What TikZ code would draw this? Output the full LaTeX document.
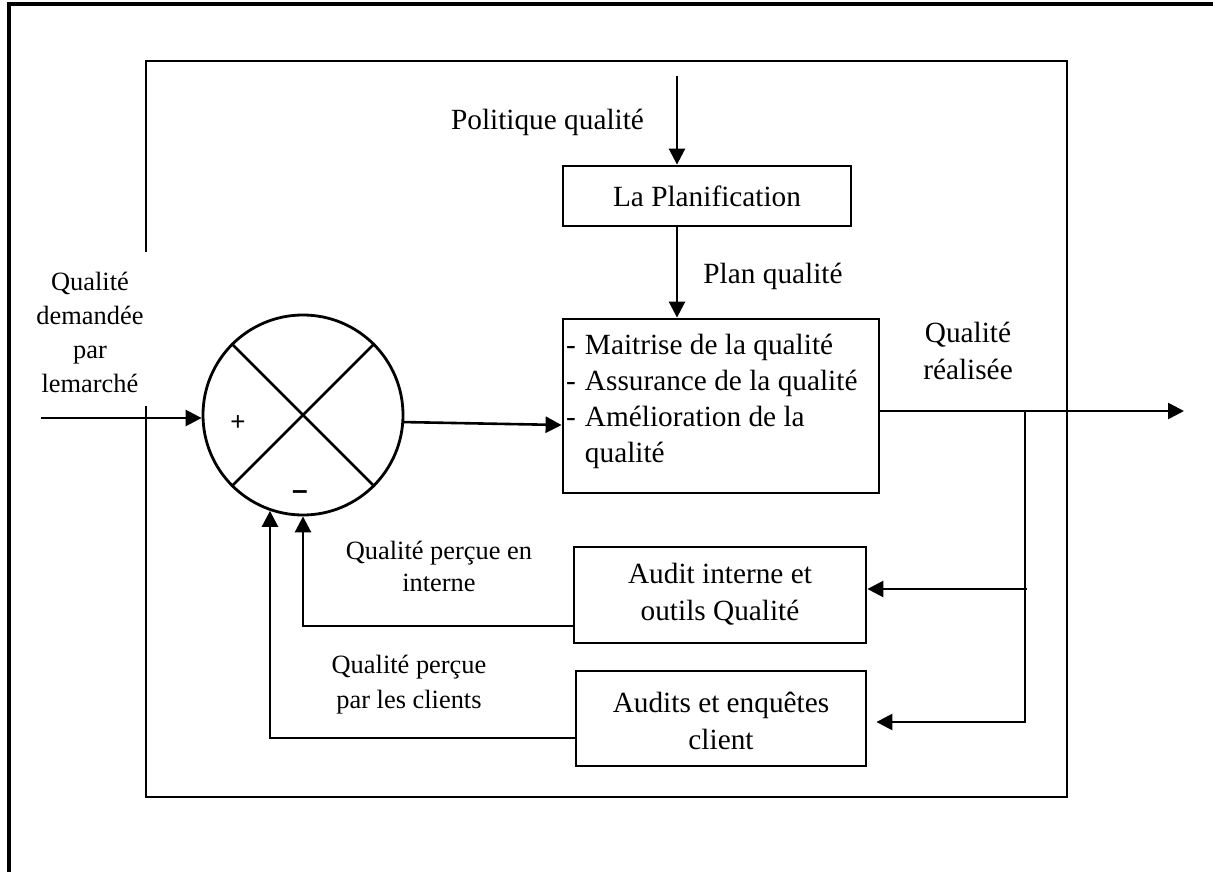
\documentclass[tikz,border=0pt]{standalone}
\usepackage{fontspec}
\setmainfont{Liberation Serif}
\newfontfamily\symfont{Liberation Sans}
\usetikzlibrary{arrows.meta}
% centred stack of lines whose baseline is the first line's baseline
\newcommand\rowsC[1]{\begin{tabular}[t]{@{}c@{}}#1\end{tabular}}

\begin{document}
\begin{tikzpicture}[x=1pt,y=-1pt,
  big/.style={font=\fontsize{29.3}{37}\selectfont},
  small/.style={font=\fontsize{26.4}{34}\selectfont},
  box/.style={draw, line width=2.8pt, inner sep=0pt, big},
  arr/.style={line width=2.6pt, -{Triangle[length=16pt,width=16pt]}},
  wire/.style={line width=2.6pt},
  frameline/.style={line width=2.9pt}
]
\useasboundingbox (0,0) rectangle (1213,872);

% page frame (top and left edges)
\draw[line width=3.4pt] (9,880) -- (9,4) -- (1220,4);
% process frame, open on the left where the demand label sits
\draw[frameline] (146,252) -- (146,61) -- (1067,61) -- (1067,797) -- (146,797) -- (146,406);

% comparator
\node[draw, circle, line width=2.8pt, minimum size=200pt, inner sep=0pt] (sum) at (303,415) {};
\draw[wire] (sum.45) -- (sum.225) (sum.135) -- (sum.315);
\node[font=\symfont\fontsize{26}{26}\selectfont, inner sep=0pt] (plus) at (238,423) {+};
\node[font=\symfont\bfseries\fontsize{28}{28}\selectfont, inner sep=0pt] (minus) at (300,495) {–};

% blocks
\node[box, minimum width=288pt, minimum height=60pt] (plan) at (707,196) {La Planification};
\node[box, minimum width=316pt, minimum height=174pt] (ctrl) at (721,406) {};
\node[anchor=base west, inner sep=0pt, font=\fontsize{29.3}{36.3}\selectfont] (ctrltext) at (566,354)
  {\begin{tabular}[t]{@{}l@{\hspace{9pt}}l@{}}-&Maitrise de la qualité\\-&Assurance de la qualité\\-&Amélioration de la\\&qualité\end{tabular}};
\node[box, minimum width=292pt, minimum height=96pt] (aud1) at (720,595) {\rowsC{Audit interne et\\outils Qualité}};
\node[box, minimum width=290pt, minimum height=95pt] (aud2) at (721,718.5)
  {\raisebox{-5pt}[\height][\depth]{\rowsC{Audits et enquêtes\\client}}};

% labels
\node[big, anchor=base] (polq) at (547.5,130) {Politique qualité};
\node[big, anchor=base] (planq) at (773,283) {Plan qualité};
\node[big, anchor=base] (realq) at (968,342) {\rowsC{Qualité\\réalisée}};
\node[small, anchor=base] (demq) at (90,290) {\rowsC{Qualité\\demandée\\par\\lemarché}};
\node[anchor=base, font=\fontsize{26.4}{32}\selectfont] (intq) at (439,559) {\rowsC{Qualité perçue en\\interne}};
\node[anchor=base, font=\fontsize{26.4}{35}\selectfont] (cliq) at (409,673) {\rowsC{Qualité perçue\\par les clients}};

% forward path
\coordinate (in) at (41,418);
\draw[arr] (in) -- (in -| sum.west);
\draw[arr] (sum.-4.6) -- (ctrl.west |- 0,425);
\coordinate (pol) at (677,76);
\draw[arr] (pol) -- (pol |- plan.north);
\draw[arr] (pol |- plan.south) -- (pol |- ctrl.north);
\coordinate (out) at (1184,411);
\draw[arr] (ctrl.east |- out) -- (out);

% measurement branch
\coordinate (br) at (1025,411);
\coordinate (tap1) at (1027,589);
\draw[arr] (tap1) -- (tap1 -| aud1.east);
\draw[arr, shorten >=9pt] (br) |- (aud2.east |- 0,722);

% feedback into the comparator
\draw[arr] (aud1.west |- 0,626) -| (sum.south);
\draw[arr] (aud2.west |- 0,738) -| (sum.-109.3);
\end{tikzpicture}
\end{document}
